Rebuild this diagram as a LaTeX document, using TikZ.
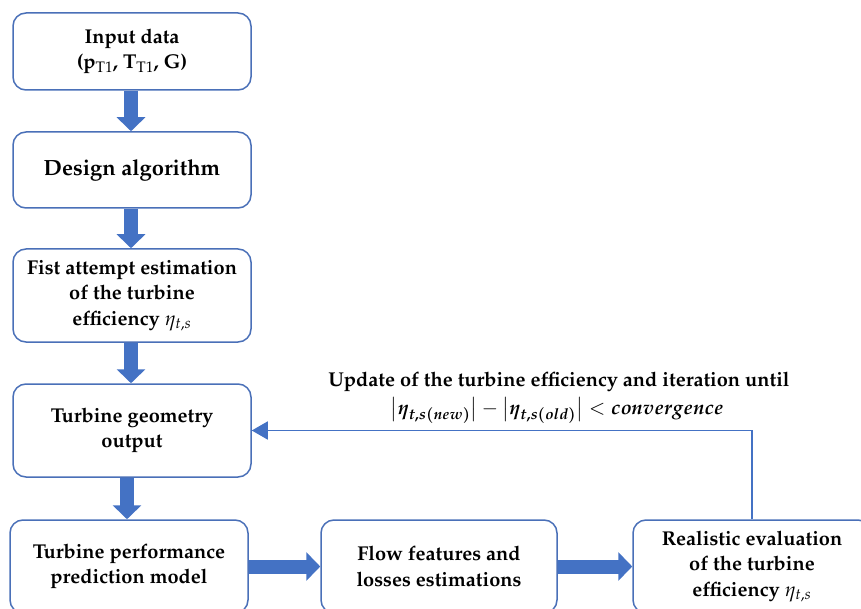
\documentclass[tikz,border=0pt]{standalone}
\usepackage[T1]{fontenc}
\usepackage{amsmath}
\usepackage{mathpazo}
\usepackage{bm}
\usetikzlibrary{arrows.meta}
\definecolor{boxblue}{HTML}{4A70B8}
\definecolor{arrblue}{HTML}{4472C4}
\newcommand{\myconv}{$\bigl\lvert\bm{\eta_{t,s(new)}}\bigr\rvert-\bigl\lvert\bm{\eta_{t,s(old)}}\bigr\rvert<\bm{convergence}$}
\newcommand{\myeta}{{\mdseries$\eta_{t,s}$}}
\tikzset{
  box/.style={draw=boxblue, line width=1.5pt, rounded corners=13pt, fill=white,
    align=center, inner sep=0pt, minimum width=238pt, minimum height=93pt,
    font=\fontsize{20}{25.5}\selectfont\bfseries},
  lblstyle/.style={anchor=base, inner sep=0pt, font=\fontsize{20}{25}\selectfont\bfseries},
  fat/.style={draw=arrblue, line width=14pt, -{Triangle[width=28pt,length=14pt]}},
  thinarrow/.style={draw=arrblue, line width=1.5pt, -{Triangle[width=18pt,length=16pt]}},
}
\begin{document}
\begin{tikzpicture}[x=1pt,y=-1pt]
\useasboundingbox (0,0) rectangle (861,609);
\node[box, minimum height=77pt] (b1) at (132,51.5) {Input data\\(p$_{\mathrm{T1}}$, T$_{\mathrm{T1}}$, G)};
\node[box, minimum height=76pt, font=\fontsize{22}{26}\selectfont\bfseries] (b2) at (132,170) {Design algorithm};
\node[box] (b3) at (132,295.5) {Fist attempt estimation\\of the turbine\\efficiency \myeta};
\node[box] (b4) at (132,430.5) {Turbine geometry\\output};
\node[box] (b5) at (129,566.5) {Turbine performance\\prediction model};
\node[box, minimum width=236pt] (b6) at (439,566.5) {Flow features and\\losses estimations};
\node[box] (b7) at (752,566.5) {Realistic evaluation\\of the turbine\\efficiency \myeta};
\node[lblstyle] (lbl1) at (559,386) {Update of the turbine efficiency and iteration until};
\node[lblstyle] (lbl2) at (557,414) {\myconv};
\coordinate (xa) at (131,0);
\coordinate (xb) at (127,0);
\draw[fat] (b1.south -| xa) -- (b2.north -| xa);
\draw[fat] (b2.south -| xa) -- (b3.north -| xa);
\draw[fat] (b3.south -| xa) -- (b4.north -| xa);
\draw[fat] (b4.south -| xb) -- (b5.north -| xb);
\draw[fat] (b5.east) -- (b6.west);
\draw[fat] (b6.east) -- (b7.west);
\draw[thinarrow] (b7.north) |- (b4.east);
\end{tikzpicture}
\end{document}
